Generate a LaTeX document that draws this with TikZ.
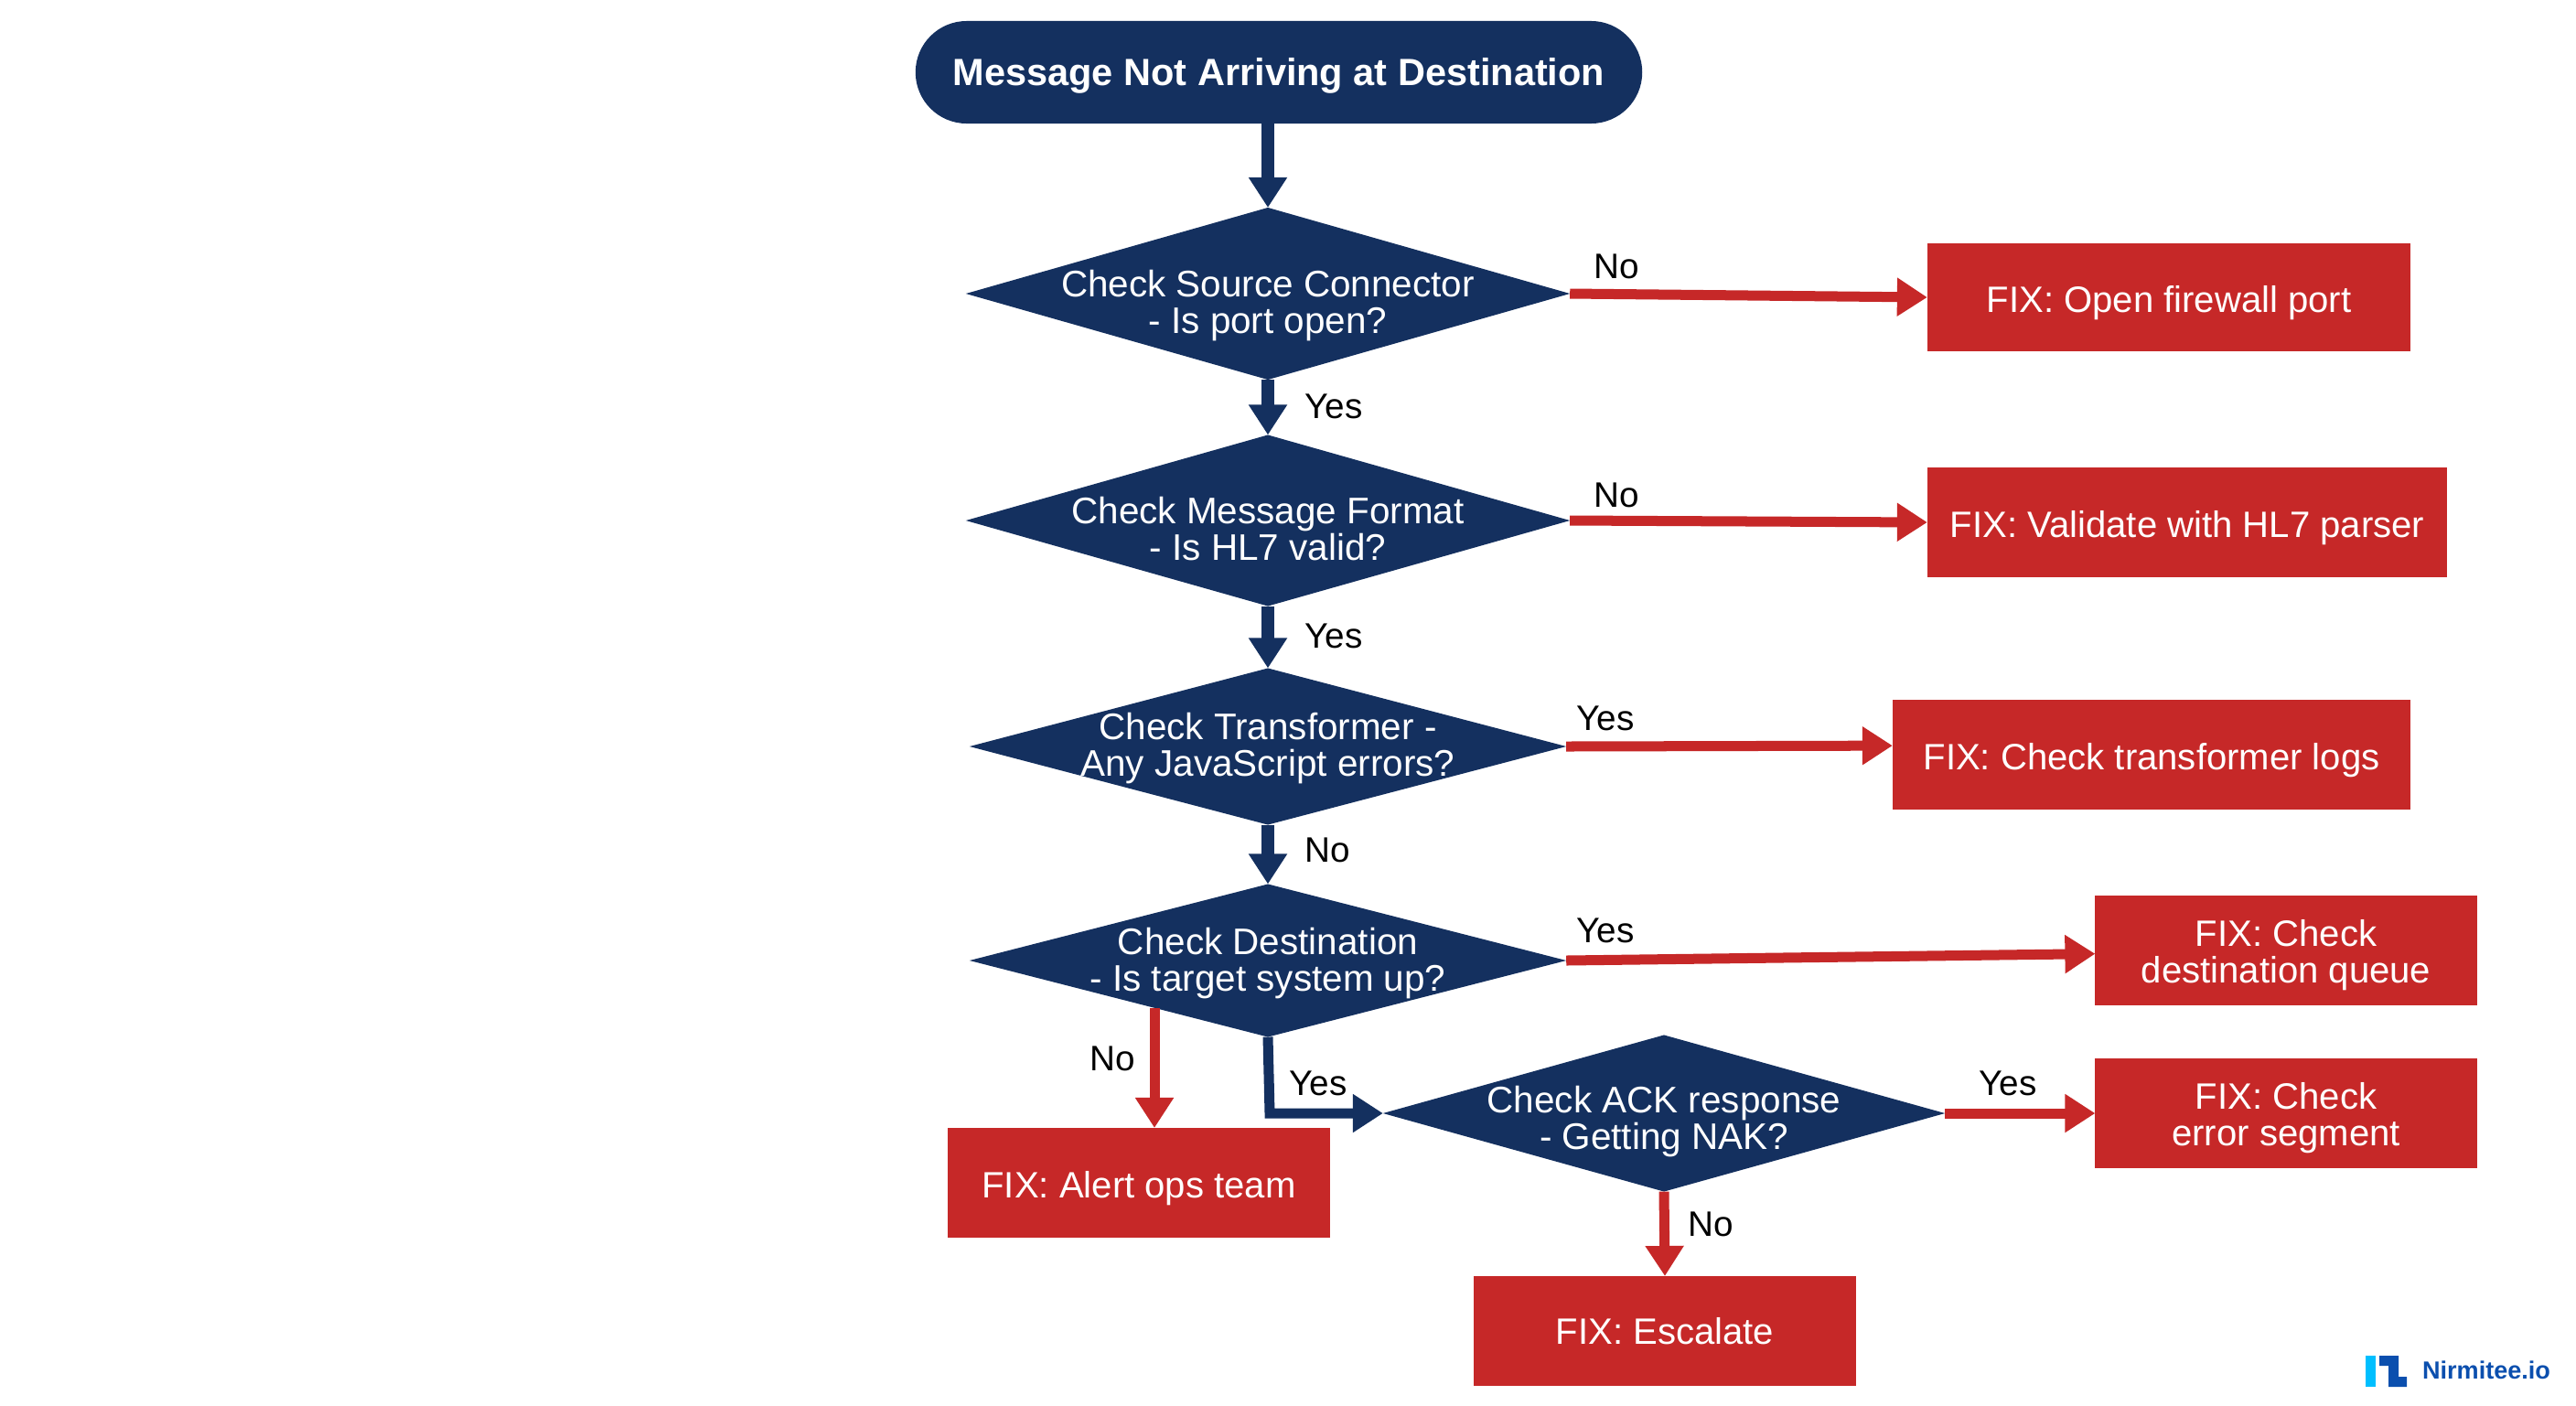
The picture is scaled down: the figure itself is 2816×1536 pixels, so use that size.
\documentclass[tikz,border=0pt]{standalone}
\usepackage{fontspec}
\setmainfont{Liberation Sans}
\usetikzlibrary{arrows.meta,shapes.geometric,shapes.misc}
\definecolor{navy}{HTML}{14305F}
\definecolor{fixred}{HTML}{C62828}
\definecolor{logoblue}{HTML}{0B4FAE}
\definecolor{logocyan}{HTML}{00BFFF}
\tikzset{
 drop/.style={execute at begin node={\rule{0pt}{#1}}},
 startbox/.style={rounded rectangle,fill=navy,text=white,inner sep=0pt,outer sep=0pt,minimum width=7.94cm,minimum height=1.12cm,drop=10.5pt,font=\fontsize{11.8}{14}\selectfont\bfseries},
 decision/.style={diamond,aspect=3.5,fill=navy,text=white,align=center,inner sep=-8pt,outer sep=0pt,font=\fontsize{11.5}{11.4}\selectfont},
 fixbox/.style={rectangle,fill=fixred,text=white,align=center,inner sep=0pt,outer sep=0pt,minimum height=1.2cm,font=\fontsize{11.4}{11.4}\selectfont},
 answer/.style={text=black,inner sep=0pt,font=\fontsize{11}{13}\selectfont},
 flow/.style={navy,line width=0.14cm,-{Triangle[length=0.33cm,width=0.4cm]}},
 fixflow/.style={fixred,line width=0.11cm,-{Triangle[length=0.33cm,width=0.4cm]}},
}
\begin{document}
\begin{tikzpicture}[x=0.01cm,y=-0.01cm]
 \useasboundingbox (0,0) rectangle (2816,1536);
 \node[startbox] (start) at (1398,79) {Message Not Arriving at Destination};
 \node[decision,drop=27pt,minimum width=6.6cm,minimum height=1.88cm] (chksrc) at (1386,321) {Check Source Connector\\- Is port open?};
 \node[decision,drop=25pt,minimum width=6.6cm,minimum height=1.87cm] (chkfmt) at (1386,569) {Check Message Format\\- Is HL7 valid?};
 \node[decision,drop=21pt,minimum width=6.52cm,minimum height=1.71cm] (chktrans) at (1386,816) {Check Transformer -\\Any JavaScript errors?};
 \node[decision,drop=21.7pt,minimum width=6.52cm,minimum height=1.67cm] (chkdest) at (1386,1050) {Check Destination\\- Is target system up?};
 \node[decision,drop=24.7pt,minimum width=6.14cm,minimum height=1.71cm] (chkack) at (1819,1217) {Check ACK response\\- Getting NAK?};
 % fix boxes
 \node[fixbox,drop=11.5pt,minimum width=5.28cm,minimum height=1.18cm] (fixport) at (2371,325) {FIX: Open firewall port};
 \node[fixbox,drop=11.5pt,minimum width=5.68cm,minimum height=1.19cm] (fixparser) at (2391,571) {FIX: Validate with HL7 parser};
 \node[fixbox,drop=11.5pt,minimum width=5.66cm] (fixlogs) at (2352,825) {FIX: Check transformer logs};
 \node[fixbox,drop=22.5pt,minimum width=4.17cm] (fixqueue) at (2499,1039) {FIX: Check\\destination queue};
 \node[fixbox,drop=22.5pt,minimum width=4.17cm] (fixsegment) at (2499,1217) {FIX: Check\\error segment};
 \node[fixbox,drop=11.5pt,minimum width=4.17cm] (fixalert) at (1245,1293) {FIX: Alert ops team};
 \node[fixbox,minimum width=4.17cm] (fixescalate) at (1820,1455) {FIX: Escalate};
 % flow
 \coordinate (destout) at (1262,1102); %red exit on the lower edge
 \coordinate (elbow) at (1388,1217);
 \draw[flow] (start.south -| chksrc.north)--(chksrc.north);
 \draw[flow] (chksrc.south)--(chkfmt.north);
 \draw[flow] (chkfmt.south)--(chktrans.north);
 \draw[flow] (chktrans.south)--(chkdest.north);
 \draw[flow,line width=0.11cm] (chkdest.south)--(elbow)--(chkack.west);
 \draw[fixflow] (chksrc.east)--(fixport.west);
 \draw[fixflow] (chkfmt.east)--(fixparser.west);
 \draw[fixflow] (chktrans.east)--(fixlogs.178.8);
 \draw[fixflow] (chkdest.east)--(fixqueue.181.4);
 \draw[fixflow] (chkack.east)--(fixsegment.west);
 \draw[fixflow] (chkack.south)--(fixescalate.north);
 \draw[fixflow] (destout)--(destout |- fixalert.north);
 % answers
 \node[answer] (srcno) at (1767,291) {No};
 \node[answer] (srcyes) at (1458,444) {Yes};
 \node[answer] (fmtno) at (1767,541) {No};
 \node[answer] (fmtyes) at (1458,695) {Yes};
 \node[answer] (transyes) at (1755,785) {Yes};
 \node[answer] (transno) at (1451,929) {No};
 \node[answer] (destyes) at (1755,1017) {Yes};
 \node[answer] (destno) at (1216,1157) {No};
 \node[answer] (destdown) at (1441,1184) {Yes};
 \node[answer] (ackyes) at (2195,1184) {Yes};
 \node[answer] (ackno) at (1870,1338) {No};
 % logo
 \fill[logocyan] (2586,1482) rectangle (2597,1516);
 \fill[logoblue] (2601,1482)--(2622,1482)--(2622,1505)--(2631,1505)--(2631,1516)--(2611,1516)--(2611,1493)--(2601,1493)--cycle;
 \node[text=logoblue,inner sep=0pt,font=\fontsize{7.7}{10}\selectfont\bfseries] (logotext) at (2718,1498) {Nirmitee.io};
\end{tikzpicture}
\end{document}
